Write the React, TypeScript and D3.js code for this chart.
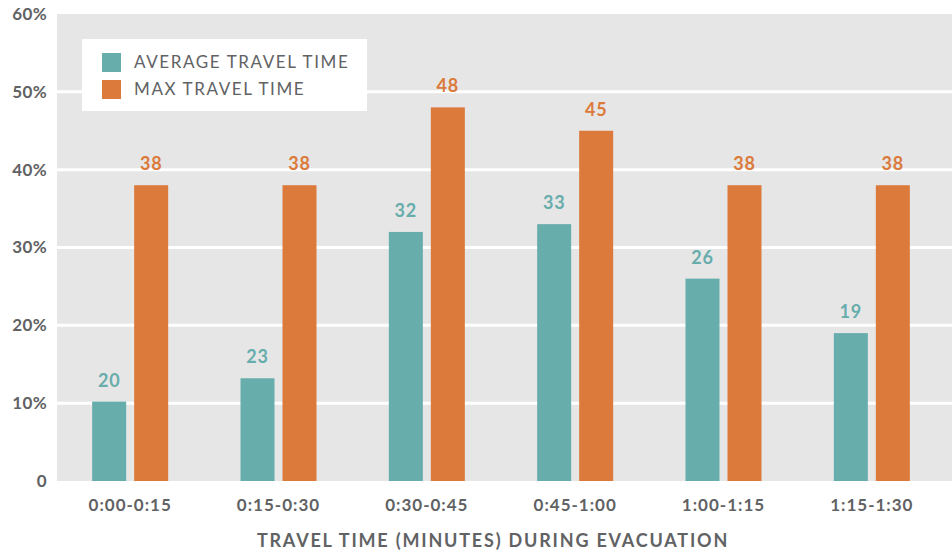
import React from "react";
import * as d3 from "d3";

const categories = ["0:00-0:15", "0:15-0:30", "0:30-0:45", "0:45-1:00", "1:00-1:15", "1:15-1:30"];
const avgValues = [10.2, 13.2, 32, 33, 26, 19];
const avgLabels = ["20", "23", "32", "33", "26", "19"];
const maxValues = [38, 38, 48, 45, 38, 38];
const maxLabels = ["38", "38", "48", "45", "38", "38"];
const yTicks = [0, 10, 20, 30, 40, 50, 60];
const seriesNames = ["AVERAGE TRAVEL TIME", "MAX TRAVEL TIME"];
const xTitle = "TRAVEL TIME (MINUTES) DURING EVACUATION";

const TEAL = "#67ADAB";
const ORANGE = "#DB7A3A";
const BG = "#E6E6E7";
const TXT = "#616264";
const FONT = "Lato, 'Open Sans', sans-serif";

export default function App() {
  const W = 952, H = 554;
  const plotLeft = 57, plotRight = 952;
  const y = d3.scaleLinear().domain([0, 60]).range([481, 14]);
  const x = d3.scaleBand<string>().domain(categories).range([56, 946]);
  const barW = 34, gap = 8;

  return (
    <svg width={W} height={H} style={{ position: "absolute", left: 0, top: 0, background: "#fff" }}>
      <rect x={plotLeft} y={y(60)} width={plotRight - plotLeft} height={y(0) - y(60)} fill={BG} />
      {yTicks.filter(t => t > 0 && t < 60).map(t => (
        <line key={t} x1={plotLeft} x2={plotRight} y1={y(t)} y2={y(t)} stroke="#fff" strokeWidth={3} />
      ))}
      {yTicks.map(t => (
        <text key={t} x={47} y={y(t)} dy="0.35em" textAnchor="end" fontFamily={FONT} fontWeight={700} fontSize={17} letterSpacing={0.4} fill={TXT}>
          {t === 0 ? "0" : `${t}%`}
        </text>
      ))}
      {categories.map((c, i) => {
        const cx = (x(c) ?? 0) + x.bandwidth() / 2;
        const ax = cx - gap / 2 - barW;
        const mx = cx + gap / 2;
        return (
          <g key={c}>
            <rect x={ax} y={y(avgValues[i])} width={barW} height={y(0) - y(avgValues[i])} fill={TEAL} />
            <rect x={mx} y={y(maxValues[i])} width={barW} height={y(0) - y(maxValues[i])} fill={ORANGE} />
            <text x={ax + barW / 2} y={y(avgValues[i]) - 15} textAnchor="middle" fontFamily={FONT} fontWeight={700} fontSize={18} letterSpacing={0.8} fill={TEAL}>
              {avgLabels[i]}
            </text>
            <text x={mx + barW / 2} y={y(maxValues[i]) - 15} textAnchor="middle" fontFamily={FONT} fontWeight={700} fontSize={18} letterSpacing={0.8} fill={ORANGE}>
              {maxLabels[i]}
            </text>
            <text x={cx} y={505} dy="0.35em" textAnchor="middle" fontFamily={FONT} fontWeight={700} fontSize={17} letterSpacing={1.0} fill={TXT}>
              {c}
            </text>
          </g>
        );
      })}
      <text x={493} y={541} dy="0.35em" textAnchor="middle" fontFamily={FONT} fontWeight={700} fontSize={18} letterSpacing={1.8} fill={TXT}>
        {xTitle}
      </text>
      <rect x={82} y={39} width={285} height={72} fill="#fff" />
      {seriesNames.map((s, i) => (
        <g key={s}>
          <rect x={102} y={53 + i * 27} width={19} height={19} fill={i === 0 ? TEAL : ORANGE} />
          <text x={134} y={62.5 + i * 27} dy="0.35em" fontFamily={FONT} fontSize={17} letterSpacing={1.6} fill={TXT}>
            {s}
          </text>
        </g>
      ))}
    </svg>
  );
}
